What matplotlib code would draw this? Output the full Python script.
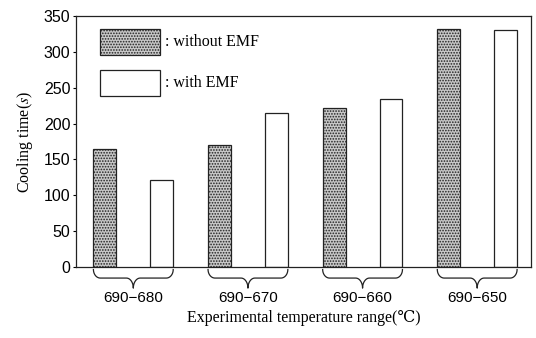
import numpy as np
import matplotlib.pyplot as plt
from matplotlib.patches import Rectangle

# data
ranges = ['690\u2212680', '690\u2212670', '690\u2212660', '690\u2212650']
without_emf = [165, 170, 222, 332]
with_emf = [122, 215, 234, 330]

SERIF = ['Liberation Serif', 'DejaVu Serif', 'DejaVu Sans']
SANS = 'Liberation Sans'
plt.rcParams['mathtext.fontset'] = 'stix'
plt.rcParams['hatch.color'] = '#8a8a8a'
plt.rcParams['hatch.linewidth'] = 0.8

fig = plt.figure(figsize=(5.36, 3.38), dpi=100)
ax = fig.add_axes([0.1418, 0.21, 0.849, 0.7426])

x = np.arange(len(ranges))
w = 0.2
off = 0.248
ax.bar(x - off, without_emf, w, facecolor='#c8c8c8', edgecolor='#222222',
       hatch='......', linewidth=0.9)
ax.bar(x + off, with_emf, w, facecolor='white', edgecolor='#222222', linewidth=0.9)

ax.set_xlim(-0.5, 3.47)
ax.set_ylim(0, 350)
ax.set_yticks(range(0, 351, 50))
ax.set_xticks([])
ax.tick_params(axis='y', direction='out', length=2, width=0.8, pad=2)
for lab in ax.get_yticklabels():
    lab.set_fontfamily(SANS)
    lab.set_fontsize(11.5)
for s in ax.spines.values():
    s.set_linewidth(0.9)
    s.set_color('#222222')

# braces under each group, with the range label
tr = ax.get_xaxis_transform()
for i, lab in enumerate(ranges):
    x0 = x[i] - off - w / 2
    c = x[i]
    r = 0.06
    ya, yb, yc = -0.01, -0.044, -0.084
    t = np.linspace(0, np.pi / 2, 12)
    end_x = x0 + r * (1 - np.cos(t))
    end_y = ya + (yb - ya) * np.sin(t)
    mid_x = c - r + r * np.sin(t)
    mid_y = yb + (yc - yb) * (1 - np.cos(t))
    xs = np.concatenate([end_x, mid_x, 2 * c - mid_x[::-1], 2 * c - end_x[::-1]])
    ys = np.concatenate([end_y, mid_y, mid_y[::-1], end_y[::-1]])
    ax.plot(xs, ys, color='#222222', lw=0.9, transform=tr, clip_on=False)
    ax.text(c, -0.125, lab, transform=tr, ha='center', va='center',
            fontfamily=SANS, fontsize=11)

ax.set_xlabel('Experimental temperature range(\u2103)', family=SERIF,
              fontsize=11.5, labelpad=31)
ax.set_ylabel('Cooling time($s$)', family=SERIF, fontsize=11.5, labelpad=6)

# legend boxes drawn inside the axes
ax.add_patch(Rectangle((0.053, 0.845), 0.131, 0.104, transform=ax.transAxes,
                       facecolor='#c8c8c8', edgecolor='#222222', hatch='......', lw=0.9))
ax.add_patch(Rectangle((0.053, 0.682), 0.131, 0.104, transform=ax.transAxes,
                       facecolor='white', edgecolor='#222222', lw=0.9))
ax.text(0.196, 0.897, ': without EMF', transform=ax.transAxes, va='center',
        family=SERIF, fontsize=11.5)
ax.text(0.196, 0.734, ': with EMF', transform=ax.transAxes, va='center',
        family=SERIF, fontsize=11.5)

fig.savefig('out.png', dpi=100)
